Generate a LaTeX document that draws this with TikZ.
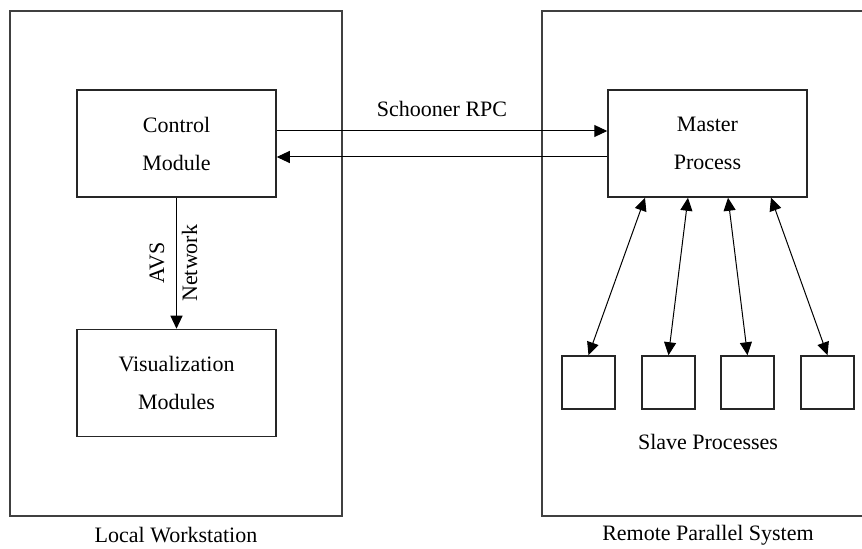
\documentclass[tikz,border=0pt]{standalone}
\usepackage{fontspec}
\setmainfont{Liberation Serif}
\usepackage{tikz}
\usetikzlibrary{arrows.meta,positioning}

\begin{document}
\begin{tikzpicture}[x=0.5pt,y=-0.5pt,
  every node/.style={font=\fontsize{11}{19}\selectfont},
  frame/.style={draw=black!75, line width=0.9pt},
  box/.style={draw=black!85, line width=0.75pt, minimum width=99.5pt, minimum height=53.5pt, align=center, inner sep=0pt},
  slavebox/.style={draw=black!85, line width=0.75pt, minimum size=26.5pt, inner sep=0pt},
  arr/.style={-{Triangle[length=6.5pt,width=6pt]}, line width=0.5pt},
  dblarr/.style={{Triangle[length=6.5pt,width=6pt]}-{Triangle[length=6.5pt,width=6pt]}, line width=0.5pt}]
\useasboundingbox (0,0) rectangle (862,549);

% the two systems
\draw [frame] (10,11) rectangle (342,516);
\draw [frame] (542,11) rectangle (874,516); % runs off the right edge
\node (localname) at (176,535) {Local Workstation};
\node (remotename) at (708,535) {Remote Parallel System};

\node [box] (ctrl) at (176.5,143.5) {Control\\Module};
\node [box] (vis) at (176.5,383) {Visualization\\Modules};
\node [box] (master) at (707.5,143.5) {Master\\Process};

\foreach \i/\x in {1/588.5,2/668.5,3/747.5,4/827.5}
  \node [slavebox] (slave\i) at (\x,382.5) {};
\node (slavename) at (708,442) {Slave Processes};

% Schooner RPC
\draw [arr] ([yshift=6.25pt]ctrl.east) -- ([yshift=6.25pt]master.west) node [midway, above=3.5pt] {Schooner RPC};
\draw [arr] ([yshift=-6.75pt]master.west) -- ([yshift=-6.75pt]ctrl.east);

% AVS network
\draw [arr] (ctrl.south) -- (vis.north) node [midway, xshift=-1.5pt, rotate=90, align=center, font=\fontsize{11}{16.5}\selectfont] {AVS\\Network};

\foreach \i/\dx in {1/-31.25,2/-9.75,3/10.25,4/31.75}
  \draw [dblarr] ([xshift=\dx pt]master.south) -- (slave\i.north);

\end{tikzpicture}
\end{document}
